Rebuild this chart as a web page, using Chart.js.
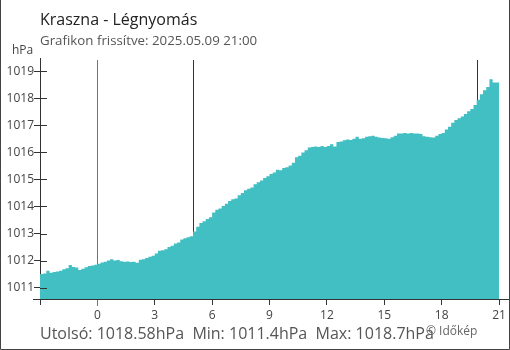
<!DOCTYPE html>
<html>
<head>
<meta charset="utf-8">
<script src="https://cdn.jsdelivr.net/npm/chart.js@4/dist/chart.umd.min.js"></script>
<style>
  html, body { margin: 0; padding: 0; background: #fff; }
  #wrap { position: relative; width: 510px; height: 350px; }
</style>
</head>
<body>
<div id="wrap"><canvas id="chart" width="510" height="350"></canvas></div>
<script>
// hPa readings every 10 minutes, from -3h to 21h
const pressure = [
  1011.42, 1011.50, 1011.52, 1011.62, 1011.55, 1011.58,
  1011.60, 1011.62, 1011.68, 1011.72, 1011.84, 1011.76,
  1011.74, 1011.65, 1011.70, 1011.75, 1011.80, 1011.82,
  1011.85, 1011.88, 1011.93, 1011.96, 1012.00, 1012.05,
  1012.00, 1012.02, 1011.98, 1011.96, 1011.97, 1011.95,
  1011.96, 1011.92, 1012.03, 1012.05, 1012.10, 1012.14,
  1012.18, 1012.26, 1012.36, 1012.38, 1012.42, 1012.50,
  1012.55, 1012.63, 1012.67, 1012.78, 1012.83, 1012.86,
  1012.90, 1013.08, 1013.25, 1013.39, 1013.45, 1013.54,
  1013.60, 1013.78, 1013.88, 1013.93, 1014.02, 1014.10,
  1014.20, 1014.27, 1014.30, 1014.42, 1014.50, 1014.60,
  1014.66, 1014.70, 1014.82, 1014.90, 1014.96, 1015.05,
  1015.12, 1015.20, 1015.26, 1015.36, 1015.34, 1015.42,
  1015.45, 1015.52, 1015.62, 1015.82, 1015.88, 1016.00,
  1016.08, 1016.18, 1016.20, 1016.22, 1016.20, 1016.24,
  1016.20, 1016.24, 1016.30, 1016.22, 1016.38, 1016.40,
  1016.45, 1016.48, 1016.46, 1016.50, 1016.58, 1016.50,
  1016.52, 1016.58, 1016.60, 1016.62, 1016.58, 1016.55,
  1016.53, 1016.52, 1016.50, 1016.56, 1016.62, 1016.70,
  1016.70, 1016.72, 1016.70, 1016.72, 1016.70, 1016.70,
  1016.68, 1016.60, 1016.58, 1016.56, 1016.55, 1016.62,
  1016.68, 1016.72, 1016.85, 1016.95, 1017.10, 1017.20,
  1017.26, 1017.33, 1017.42, 1017.52, 1017.60, 1017.75,
  1017.95, 1018.15, 1018.30, 1018.42, 1018.70, 1018.58
];
const startHour = -3;
const endHour = 21;
const stepMinutes = 10;
const xTicks = [-3, 0, 3, 6, 9, 12, 15, 18, 21];
const yTicks = [1011, 1012, 1013, 1014, 1015, 1016, 1017, 1018, 1019];
const markerHours = [0, 5, 19.85];

const title = "Kraszna - Légnyomás";
const subtitle = "Grafikon frissítve: 2025.05.09 21:00";
const stats = "Utolsó: 1018.58hPa  Min: 1011.4hPa  Max: 1018.7hPa";
const credit = "© Időkép";

const FONT = "'Open Sans', 'Noto Sans', sans-serif";

const points = pressure.map((v, i) => ({ x: startHour + i * stepMinutes / 60, y: v }));
points.push({ x: endHour, y: pressure[pressure.length - 1] });

const decor = {
  id: "decor",
  beforeDatasetsDraw(chart) {
    const { ctx, scales: { x }, chartArea } = chart;
    ctx.save();
    ctx.lineWidth = 1;
    markerHours.forEach((h, i) => {
      const px = Math.round(x.getPixelForValue(h)) + 0.5;
      ctx.strokeStyle = i === 0 ? "#3f80c0" : "#333";
      ctx.beginPath();
      ctx.moveTo(px, 60);
      ctx.lineTo(px, i === 0 ? chartArea.bottom + 7 : chartArea.bottom);
      ctx.stroke();
    });
    ctx.restore();
  },
  afterDraw(chart) {
    const { ctx, scales: { y }, chartArea } = chart;
    ctx.save();
    ctx.strokeStyle = "#333";
    ctx.lineWidth = 1;
    // inner half of y ticks and x-axis extensions
    ctx.beginPath();
    yTicks.forEach(v => {
      const py = Math.round(y.getPixelForValue(v)) + 0.5;
      ctx.moveTo(chartArea.left, py);
      ctx.lineTo(chartArea.left + 7, py);
    });
    const by = Math.round(chartArea.bottom) + 0.5;
    ctx.moveTo(33, by);
    ctx.lineTo(509, by);
    ctx.stroke();

    // frame
    ctx.strokeStyle = "#444";
    ctx.beginPath();
    ctx.moveTo(0.5, 0);
    ctx.lineTo(0.5, 349.5);
    ctx.lineTo(509.5, 349.5);
    ctx.lineTo(509.5, 0);
    ctx.stroke();

    // texts
    ctx.textBaseline = "alphabetic";
    ctx.fillStyle = "#222";
    ctx.font = "16px " + FONT;
    ctx.fillText(title, 40, 25);
    ctx.fillStyle = "#555";
    ctx.font = "13.3px " + FONT;
    ctx.fillText(subtitle, 40, 45);
    ctx.fillStyle = "#444";
    ctx.font = "12px " + FONT;
    ctx.fillText("hPa", 12, 54);
    ctx.fillStyle = "#555";
    ctx.font = "16px " + FONT;
    ctx.fillText(stats, 40, 339);
    ctx.fillStyle = "#666";
    ctx.font = "12px " + FONT;
    ctx.fillText(credit, 426, 335);
    ctx.restore();
  }
};

new Chart(document.getElementById("chart"), {
  type: "line",
  data: {
    datasets: [{
      data: points,
      stepped: "after",
      fill: "start",
      backgroundColor: "#41bfc2",
      borderWidth: 0,
      pointRadius: 0
    }]
  },
  options: {
    responsive: false,
    animation: false,
    layout: { padding: { left: 0, right: 11, top: 58, bottom: 0 } },
    plugins: { legend: { display: false }, tooltip: { enabled: false } },
    scales: {
      x: {
        type: "linear",
        min: startHour,
        max: endHour,
        afterBuildTicks: s => { s.ticks = xTicks.map(v => ({ value: v })); },
        afterFit: s => { s.height = 51; },
        border: { display: true, color: "#333" },
        grid: { drawOnChartArea: false, drawTicks: true, tickLength: 6, color: "#333" },
        ticks: {
          color: "#444",
          padding: 3,
          maxRotation: 0,
          autoSkip: false,
          font: { family: FONT, size: 12 },
          callback: v => (v === startHour ? "" : String(v))
        }
      },
      y: {
        min: 1010.58,
        max: 1019.49,
        afterBuildTicks: s => { s.ticks = yTicks.map(v => ({ value: v })); },
        afterFit: s => { s.width = 40; },
        border: { display: true, color: "#333" },
        grid: { drawOnChartArea: false, drawTicks: true, tickLength: 6, color: "#333" },
        ticks: {
          color: "#444",
          padding: 0,
          autoSkip: false,
          font: { family: FONT, size: 12 },
          callback: v => String(v)
        }
      }
    }
  },
  plugins: [decor]
});
</script>
</body>
</html>
